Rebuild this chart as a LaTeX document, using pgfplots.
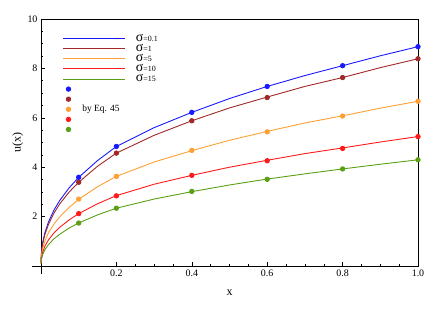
\documentclass[border=0pt]{standalone}
\usepackage{pgfplots}
\pgfplotsset{compat=1.18}
\usepackage{fontspec}
\setmainfont{Liberation Serif}
\definecolor{cblue}{RGB}{25,25,255}
\definecolor{cbrown}{RGB}{160,40,40}
\definecolor{corange}{RGB}{255,160,50}
\definecolor{cred}{RGB}{255,25,25}
\definecolor{cgreen}{RGB}{90,160,20}
\pgfplotsset{
  lineleg/.style={legend image code/.code={\draw[##1] (0bp,0bp)--(62bp,0bp);}},
  markleg/.style={legend image code/.code={\draw[##1] plot coordinates {(5bp,0bp)}; \path[draw=none,fill=none] (0bp,0bp) -- (62bp,0bp);}},
}
\newcommand{\sig}[1]{{\fontsize{14}{14}\selectfont σ}{\fontsize{8}{9}\selectfont =#1}}
\begin{document}
\begin{tikzpicture}
\begin{axis}[
  scale only axis, width=377bp, height=247bp,
  xmin=0, xmax=1, ymin=0, ymax=10,
  xtick={0.2,0.4,0.6,0.8,1.0}, xticklabels={0.2,0.4,0.6,0.8,1.0},
  ytick={2,4,6,8,10}, yticklabels={2,4,6,8,10},
  minor x tick num=3, minor y tick num=3,
  tick pos=left, tick align=inside,
  major tick length=4bp, minor tick length=2bp,
  tick style={black, line width=0.5pt},
  axis line style={line width=0.7pt},
  ticklabel style={font=\fontsize{10}{12}\selectfont},
  xlabel={x}, ylabel={u(x)},
  label style={font=\fontsize{12}{14}\selectfont},
  xlabel style={at={(axis description cs:0.5,-0.109)}, anchor=center},
  ylabel style={at={(axis description cs:-0.062,0.5)}, anchor=center},
  clip=false,
  legend cell align=left,
  legend style={draw=none, fill=none, at={(axis description cs:0.05,0.95)}, anchor=north west,
    row sep=0pt, nodes={inner sep=0pt, text height=7.5bp, text depth=2.6bp},
    /tikz/every odd column/.append style={column sep=10bp}},
  every axis plot/.append style={line width=0.9pt},
]
\addplot[cblue, lineleg] coordinates {(0,0.18)(0.0005,0.36)(0.002,0.67)(0.005,0.99)(0.01,1.33)(0.02,1.79)(0.035,2.28)(0.05,2.66)(0.075,3.17)(0.1,3.59)(0.15,4.27)(0.2,4.84)(0.3,5.60)(0.4,6.22)(0.5,6.78)(0.6,7.27)(0.7,7.71)(0.8,8.11)(0.9,8.51)(1,8.88)};
\addlegendentry{\sig{0.1}}
\addplot[cbrown, lineleg] coordinates {(0,0.17)(0.0005,0.34)(0.002,0.63)(0.005,0.93)(0.01,1.26)(0.02,1.69)(0.035,2.16)(0.05,2.52)(0.075,3.00)(0.1,3.39)(0.15,4.04)(0.2,4.57)(0.3,5.29)(0.4,5.88)(0.5,6.40)(0.6,6.84)(0.7,7.27)(0.8,7.63)(0.9,8.03)(1,8.39)};
\addlegendentry{\sig{1}}
\addplot[corange, lineleg] coordinates {(0,0.13)(0.0005,0.27)(0.002,0.50)(0.005,0.74)(0.01,1.00)(0.02,1.35)(0.035,1.71)(0.05,2.00)(0.075,2.38)(0.1,2.70)(0.15,3.21)(0.2,3.63)(0.3,4.21)(0.4,4.67)(0.5,5.09)(0.6,5.45)(0.7,5.79)(0.8,6.08)(0.9,6.39)(1,6.67)};
\addlegendentry{\sig{5}}
\addplot[cred, lineleg] coordinates {(0,0.10)(0.0005,0.21)(0.002,0.39)(0.005,0.58)(0.01,0.79)(0.02,1.06)(0.035,1.35)(0.05,1.57)(0.075,1.87)(0.1,2.12)(0.15,2.52)(0.2,2.85)(0.3,3.31)(0.4,3.67)(0.5,4.00)(0.6,4.28)(0.7,4.55)(0.8,4.78)(0.9,5.02)(1,5.24)};
\addlegendentry{\sig{10}}
\addplot[cgreen, lineleg] coordinates {(0,0.09)(0.0005,0.18)(0.002,0.32)(0.005,0.48)(0.01,0.65)(0.02,0.87)(0.035,1.11)(0.05,1.29)(0.075,1.54)(0.1,1.74)(0.15,2.07)(0.2,2.34)(0.3,2.71)(0.4,3.01)(0.5,3.28)(0.6,3.52)(0.7,3.73)(0.8,3.93)(0.9,4.12)(1,4.30)};
\addlegendentry{\sig{15}}
\addplot[only marks, mark=*, mark size=2.2pt, cblue, markleg] coordinates {(0.1,3.59)(0.2,4.84)(0.4,6.22)(0.6,7.27)(0.8,8.11)(1.0,8.88)};
\addlegendentry{\mbox{}}
\addplot[only marks, mark=*, mark size=2.2pt, cbrown, markleg] coordinates {(0.1,3.39)(0.2,4.57)(0.4,5.88)(0.6,6.82)(0.8,7.63)(1.0,8.39)};
\addlegendentry{\mbox{}}
\addplot[only marks, mark=*, mark size=2.2pt, corange, markleg] coordinates {(0.1,2.71)(0.2,3.63)(0.4,4.68)(0.6,5.43)(0.8,6.07)(1.0,6.67)};
\addlegendentry{\hspace*{-71bp}{\fontsize{9.5}{11}\selectfont by Eq. 45}}
\addplot[only marks, mark=*, mark size=2.2pt, cred, markleg] coordinates {(0.1,2.12)(0.2,2.84)(0.4,3.67)(0.6,4.26)(0.8,4.76)(1.0,5.24)};
\addlegendentry{\mbox{}}
\addplot[only marks, mark=*, mark size=2.2pt, cgreen, markleg] coordinates {(0.1,1.74)(0.2,2.34)(0.4,3.02)(0.6,3.51)(0.8,3.93)(1.0,4.30)};
\addlegendentry{\mbox{}}
\draw[line width=0.7pt] (axis cs:-0.024,0) -- (axis cs:0,0);
\draw[line width=0.7pt] (axis cs:0,-0.32) -- (axis cs:0,0);
\end{axis}
\path ([shift={(-41bp,-44bp)}]current axis.south west) rectangle ([shift={(17bp,19bp)}]current axis.north east);
\end{tikzpicture}
\end{document}
